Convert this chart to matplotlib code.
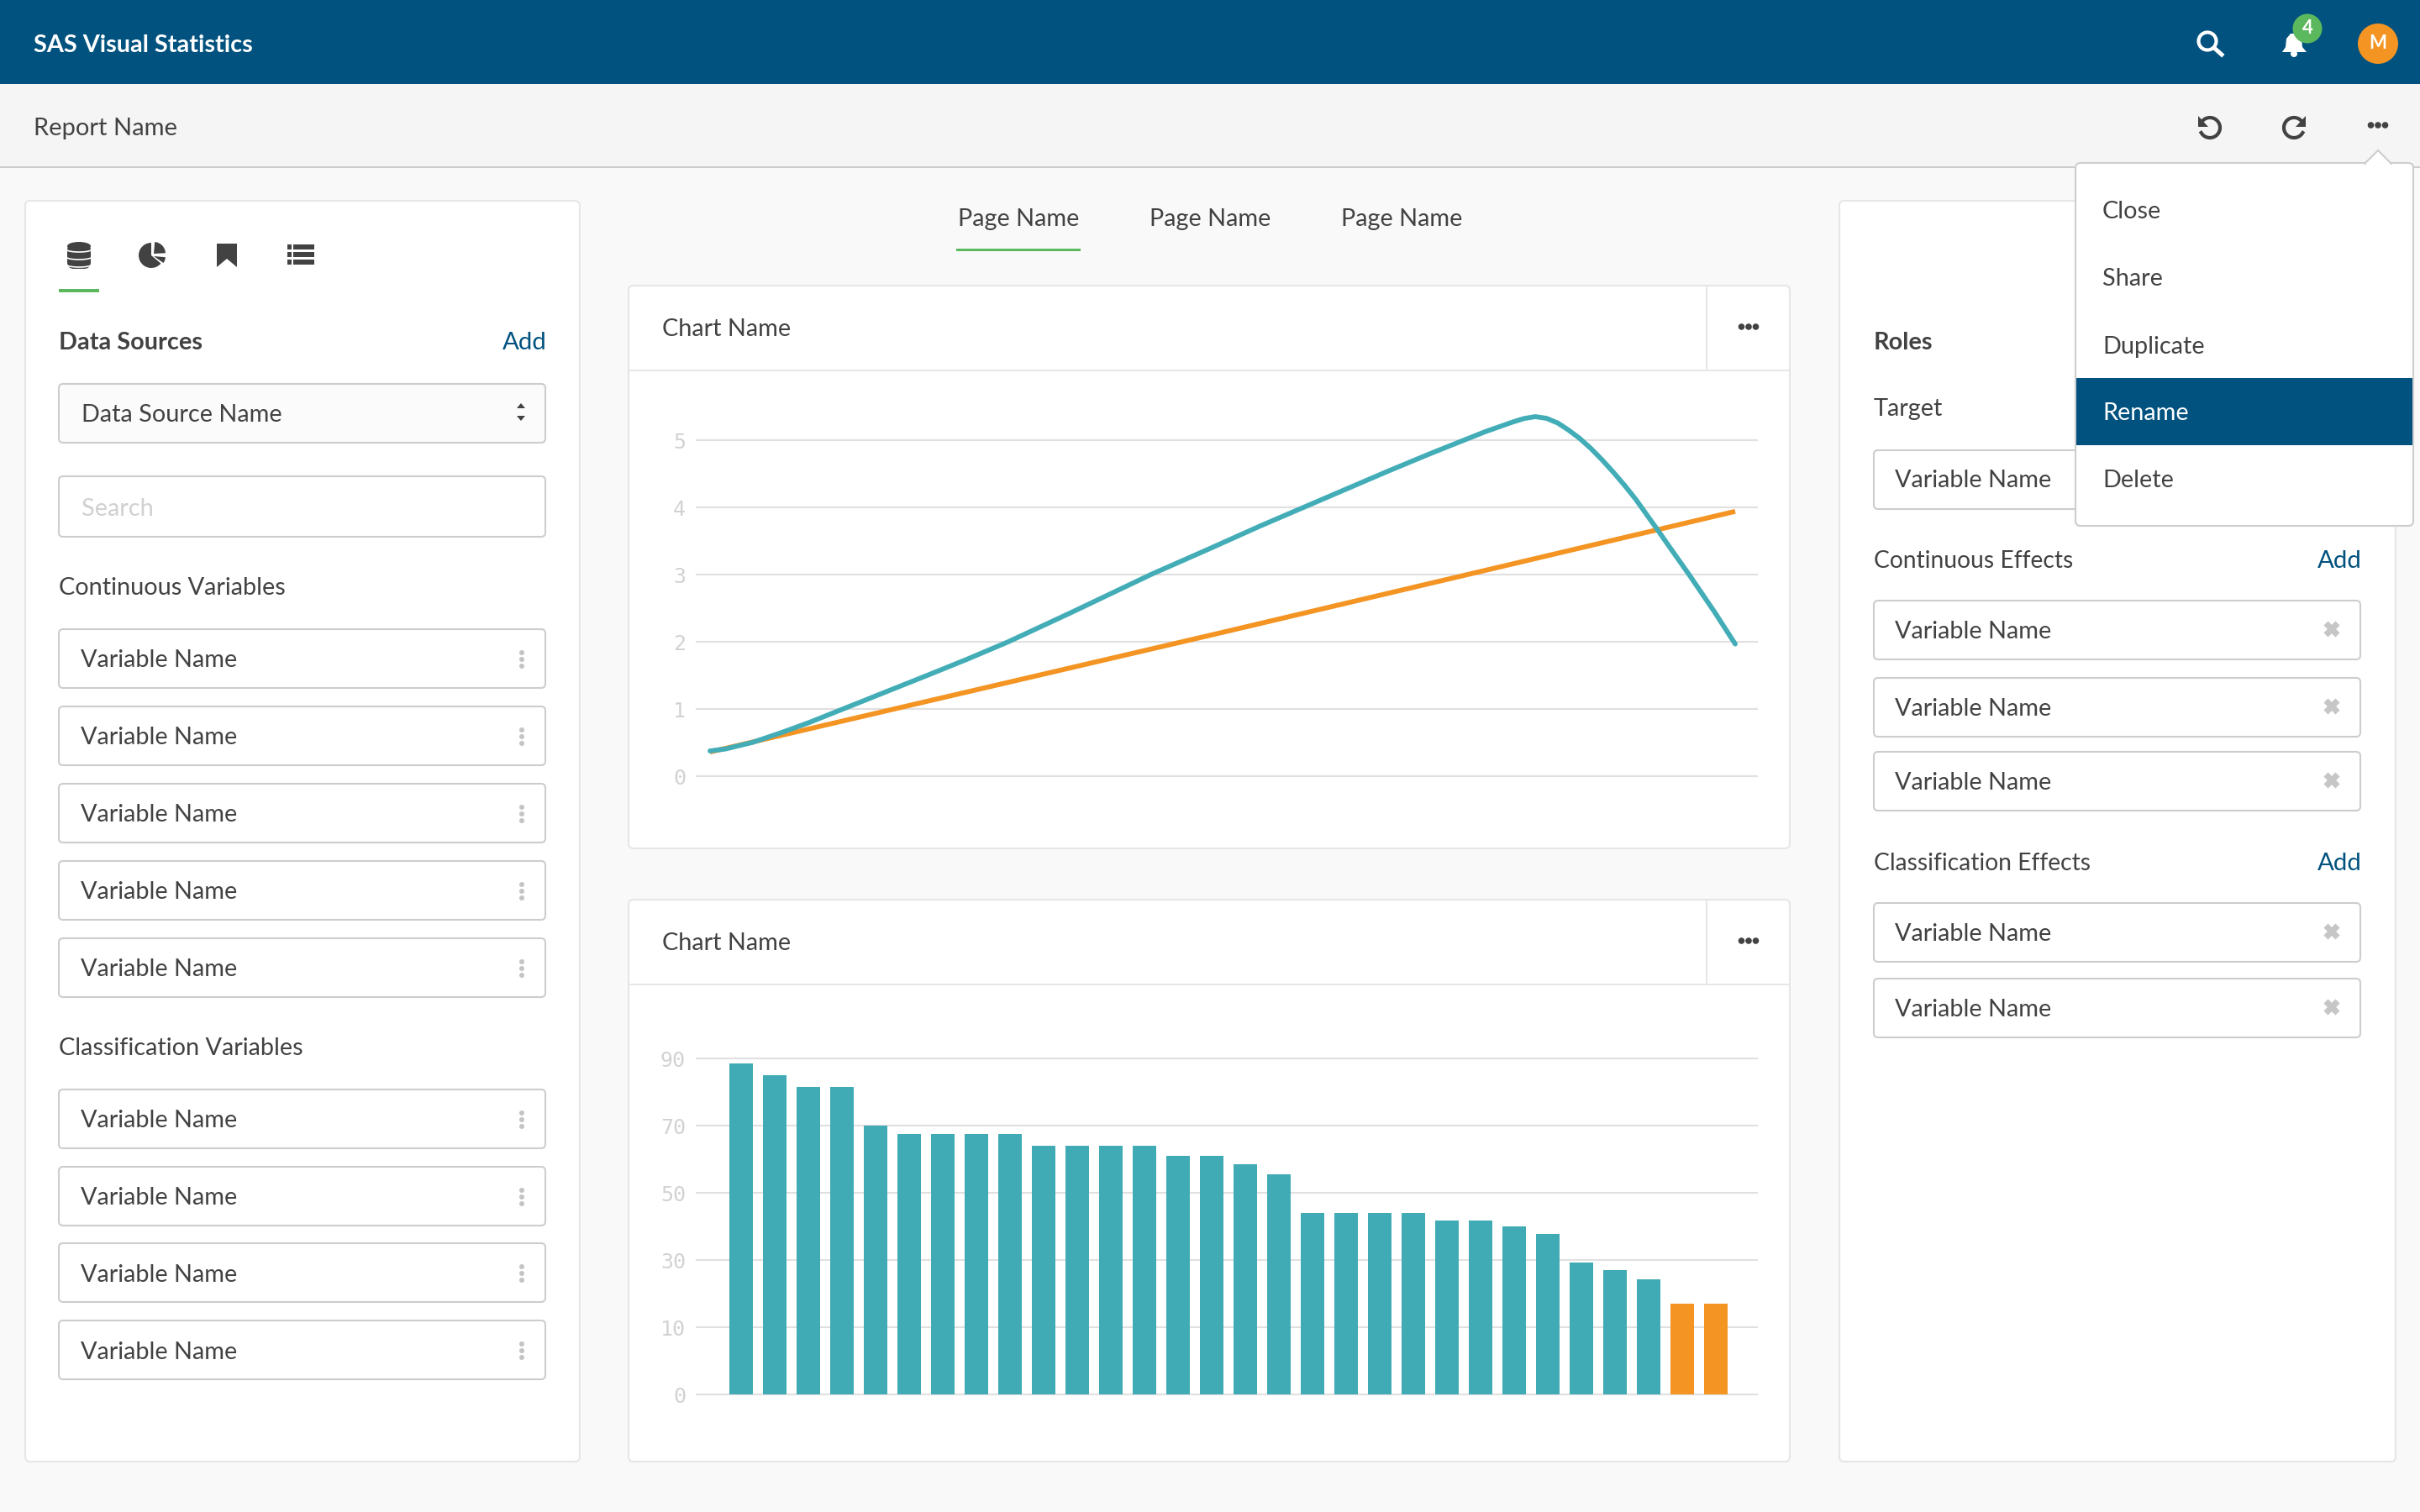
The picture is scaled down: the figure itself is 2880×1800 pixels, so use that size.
# -*- coding: utf-8 -*-
""" SAS Visual Statistics report screen: two charts inside the app layout. """

from matplotlib import pyplot as plt
from matplotlib.patches import Circle, Ellipse, FancyBboxPatch, Polygon, Rectangle, Wedge
import numpy as np

# line chart, x in steps along the curve
TEAL_X = [0, 0.15, 0.42, 0.70, 0.97, 1.24, 1.52, 1.79, 2.07, 2.50, 2.91, 3.53, 4.30, 4.88,
          5.37, 5.79, 6.60, 7.01, 7.28, 7.56, 7.83, 7.94, 8.05, 8.16, 8.27, 8.37, 8.48, 8.59,
          8.70, 8.81, 8.92, 9.03, 9.14, 9.25, 9.36, 9.55, 9.80, 10]
TEAL_Y = [0.375, 0.405, 0.505, 0.65, 0.80, 0.965, 1.135, 1.30, 1.47, 1.735, 2.0, 2.44, 3.0,
          3.39, 3.725, 4.0, 4.53, 4.79, 4.955, 5.125, 5.27, 5.322, 5.35, 5.325, 5.255,
          5.155, 5.03, 4.88, 4.71, 4.525, 4.33, 4.12, 3.885, 3.65, 3.41, 3.0, 2.44, 1.967]
ORANGE_X = [0, 2.5, 5, 7.5, 10]
ORANGE_Y = [0.36, 1.25, 2.14, 3.04, 3.94]
LINE_TICKS = [0, 1, 2, 3, 4, 5]

# bar chart, the axis labels are evenly spaced but go 0, 10, 30, 50, 70, 90
BAR_VALUES = [88.5, 85, 81.5, 81.5, 70, 67.5, 67.5, 67.5, 67.5, 64, 64, 64, 64, 61, 61,
              58.5, 55.5, 44, 44, 44, 44, 41.75, 41.75, 40, 37.8, 29.3, 27, 24.25, 17, 17]
BAR_TICKS = [0, 10, 30, 50, 70, 90]
HIGHLIGHTED = 2  # last bars drawn in orange

MENU_ITEMS = ['Close', 'Share', 'Duplicate', 'Rename', 'Delete']
PAGES = ['Page Name', 'Page Name', 'Page Name']

BLUE = '#01527f'
TEAL = '#40abb5'
ORANGE = '#f39423'
GREEN = '#5cb85c'
DARK = '#424242'
BORDER = '#cdcdcd'
CARD_EDGE = '#e6e6e6'
GRID = '#e0e0e0'
FONT = 'Lato'
W, H = 2880, 1800

plt.rcParams['font.family'] = [FONT, 'DejaVu Sans']

fig = plt.figure(figsize=(14.4, 9), dpi=200, facecolor='#f9f9f9')
ui = fig.add_axes([0, 0, 1, 1], zorder=0)
ui.set_xlim(0, W)
ui.set_ylim(H, 0)
ui.axis('off')


def rect(x0, y0, x1, y1, color, z=1):
  ui.add_patch(Rectangle((x0, y0), x1 - x0, y1 - y0, fc=color, ec='none', zorder=z))


def box(x0, y0, x1, y1, face='white', edge=BORDER, radius=5, z=2):
  ui.add_patch(FancyBboxPatch((x0, y0), x1 - x0, y1 - y0,
                              boxstyle='round,pad=0,rounding_size=%d' % radius,
                              fc=face, ec=edge, lw=0.75, zorder=z))


def label(x, y, text, color=DARK, size=10.4, ha='left', weight='normal', z=5):
  # Lato sits a little high when centred, push it down
  ui.text(x, y + 2.5, text, color=color, fontsize=size, ha=ha, va='center',
          fontweight=weight, zorder=z)


def dots(x, y, color=DARK, horizontal=True, r=3.8, step=8.5, z=5):
  for i in (-1, 0, 1):
    cx, cy = (x + i * step, y) if horizontal else (x, y + i * step)
    ui.add_patch(Circle((cx, cy), r, fc=color, ec='none', zorder=z))


def variable_row(y, x0=70, x1=649):
  box(x0, y - 35, x1, y + 35)
  label(x0 + 26, y, 'Variable Name')
  dots(x1 - 28, y + 1, color='#c4c4c4', horizontal=False, r=3, step=8)


def removable_row(y0, y1, x0=2230, x1=2809):
  box(x0, y0, x1, y1)
  label(x0 + 25, (y0 + y1) / 2 - 1, 'Variable Name')
  cx, cy = x1 - 34, (y0 + y1) / 2 - 1
  for sign in (-1, 1):
    ui.plot([cx - 7, cx + 7], [cy - sign * 7, cy + sign * 7], color='#c6c6c6',
            lw=2.6, solid_capstyle='butt', zorder=5)


def arrow_arc(cx, direction):
  """ Undo or redo icon, direction -1 is undo """
  theta = np.radians(np.linspace(135, -150, 40))
  ui.plot(cx - direction * 12 * np.cos(theta), 152 - 12 * np.sin(theta),
          color=DARK, lw=1.5, zorder=5)
  ui.add_patch(Polygon([(cx + direction * 14, 138), (cx + direction * 14, 151),
                        (cx + direction * 2, 151)], fc=DARK, ec='none', zorder=5))


# app chrome
rect(0, 0, W, 100, BLUE)
rect(0, 100, W, 198, '#f5f5f5')
rect(0, 198, W, 200, BORDER)
label(40, 51, 'SAS Visual Statistics', color='white', size=10.4, weight='bold')
label(40, 150, 'Report Name', size=10.5)

# search, bell, badge, avatar
ui.add_patch(Circle((2627, 49), 10.5, fc='none', ec='white', lw=1.5, zorder=5))
ui.plot([2635, 2644], [57, 65], color='white', lw=1.8, zorder=5)
ui.add_patch(Polygon([(2716, 62), (2720, 56), (2721, 46), (2726, 40), (2734, 40), (2739, 46),
                      (2740, 56), (2745, 62)], fc='white', ec='none', zorder=5))
ui.add_patch(Circle((2730, 64), 4, fc='white', ec='none', zorder=5))
ui.add_patch(Circle((2746, 34), 17.5, fc=GREEN, ec='none', zorder=6))
label(2746, 31, '4', color='white', size=8, ha='center', weight='bold', z=7)
ui.add_patch(Circle((2830, 52), 24, fc=ORANGE, ec='none', zorder=5))
label(2830, 49, 'M', color='white', size=8, ha='center', weight='bold', z=7)

arrow_arc(2630, -1)
arrow_arc(2730, 1)
dots(2830, 149)

# left card
box(30, 239, 690, 1740, edge=CARD_EDGE, radius=6, z=1)

# database icon
ui.add_patch(FancyBboxPatch((80, 290), 28, 30, boxstyle='round,pad=0,rounding_size=8', fc=DARK, ec='none', zorder=3))
ui.add_patch(Ellipse((94, 293), 28, 10, fc=DARK, ec='none', zorder=3))
for y in (297, 306, 315):
  t = np.linspace(0, np.pi, 20)
  ui.plot(94 + 15 * np.cos(t), y + 3 * np.sin(t), color='white', lw=0.6, zorder=4)

# pie icon
ui.add_patch(Wedge((180, 304), 15, 40, 270, fc=DARK, ec='none', zorder=3))
ui.add_patch(Wedge((183, 302), 14, -85, -3, fc=DARK, ec='none', zorder=3))
ui.add_patch(Wedge((183, 305), 14, 5, 35, fc=DARK, ec='none', zorder=3))

# bookmark icon
ui.add_patch(Polygon([(258, 290), (282, 290), (282, 318), (270, 308), (258, 318)], fc=DARK, ec='none', zorder=3))

# list icon
for y in (291, 300, 309):
  rect(342, y, 347, y + 6, DARK, z=3)
  rect(349, y, 374, y + 6, DARK, z=3)

rect(70, 344, 118, 348, GREEN, z=3)

label(70, 405, 'Data Sources', weight='bold')
label(651, 405, 'Add', color=BLUE, ha='right', size=10.6)

box(70, 457, 649, 527, face='#fbfbfb')
label(97, 491, 'Data Source Name')
ui.add_patch(Polygon([(615, 486), (625, 486), (620, 480)], fc=DARK, ec='none', zorder=5))
ui.add_patch(Polygon([(615, 495), (625, 495), (620, 501)], fc=DARK, ec='none', zorder=5))

box(70, 567, 649, 639)
label(97, 604, 'Search', color='#d0d0d0')

label(70, 698, 'Continuous Variables')
for y in (784, 876, 968, 1060, 1152):
  variable_row(y)
label(70, 1245, 'Classification Variables')
for y in (1332, 1424, 1515, 1607):
  variable_row(y)

# page tabs
for x, name in zip((1212, 1440, 1668), PAGES):
  label(x, 259, name, ha='center')
rect(1138, 296, 1286, 299, GREEN, z=3)

# chart cards
for top, bottom in ((340, 1010), (1071, 1740)):
  box(748, top, 2130, bottom, edge=CARD_EDGE, radius=6, z=1)
  rect(749, top + 100, 2129, top + 102, CARD_EDGE, z=2)
  rect(2030, top + 1, 2032, top + 100, CARD_EDGE, z=2)
  label(788, top + 49.5, 'Chart Name')
  dots(2081, top + 49)

# right card
box(2189, 239, 2851, 1740, edge=CARD_EDGE, radius=6, z=1)
label(2230, 405.5, 'Roles', weight='bold')
label(2230, 484, 'Target')
box(2230, 536, 2809, 606)
label(2255, 570, 'Variable Name')

label(2230, 665, 'Continuous Effects', size=10.2)
label(2811, 665, 'Add', color=BLUE, ha='right', size=10.6)
for y0, y1 in ((715, 785), (807, 877), (895, 965)):
  removable_row(y0, y1)
label(2230, 1025, 'Classification Effects', size=10.2)
label(2811, 1025, 'Add', color=BLUE, ha='right', size=10.6)
for y0, y1 in ((1075, 1145), (1165, 1235)):
  removable_row(y0, y1)

# dropdown menu
box(2470, 194, 2872, 626, radius=6, z=8)
ui.add_patch(Polygon([(2814, 195), (2830, 179), (2846, 195)], fc='white', ec=BORDER, lw=0.75, zorder=9))
rect(2816, 194, 2844, 198, 'white', z=10)
rect(2471, 450, 2871, 530, BLUE, z=10)
for y, item in zip((249, 329, 410, 489, 569), MENU_ITEMS):
  label(2502, y, item, color='white' if item == 'Rename' else DARK, z=11)


def chart_axes(top, bottom):
  ax = fig.add_axes([829 / W, 1 - bottom / H, (2091 - 829) / W, (bottom - top) / H], zorder=1)
  ax.patch.set_alpha(0)
  for spine in ax.spines.values():
    spine.set_visible(False)
  ax.grid(axis='y', color=GRID, lw=0.75, clip_on=False)
  ax.set_axisbelow(True)
  ax.set_xticks([])
  ax.tick_params(axis='y', length=0, pad=4.7, labelcolor='#d2d2d2', labelsize=9)
  return ax


def tick_font(ax):
  for tick in ax.get_yticklabels():
    tick.set_fontfamily('DejaVu Sans Mono')


# line chart
ax = chart_axes(480, 924)
ax.plot(ORANGE_X, ORANGE_Y, color=ORANGE, lw=2.1, solid_capstyle='butt', clip_on=False)
ax.plot(TEAL_X, TEAL_Y, color='#43adb7', lw=2.1, solid_capstyle='round', clip_on=False)
ax.set_xlim(-0.131, 10.213)
ax.set_ylim(0, 5.55)
ax.set_yticks(LINE_TICKS)
tick_font(ax)

# bar chart
positions = list(range(len(BAR_TICKS)))


def to_position(v):
  return np.interp(v, BAR_TICKS, positions)


def from_position(p):
  return np.interp(p, positions, BAR_TICKS)


ax = chart_axes(1260, 1660)
colors = [TEAL] * (len(BAR_VALUES) - HIGHLIGHTED) + [ORANGE] * HIGHLIGHTED
ax.bar(range(len(BAR_VALUES)), BAR_VALUES, width=0.7, color=colors, lw=0)
ax.set_yscale('function', functions=(to_position, from_position))
ax.set_xlim(-1.325, 30.225)
ax.set_ylim(0, 90)
ax.set_yticks(BAR_TICKS)
ax.minorticks_off()
ax.set_xticks([])
tick_font(ax)

fig.savefig('out.png', dpi=200, facecolor=fig.get_facecolor())
